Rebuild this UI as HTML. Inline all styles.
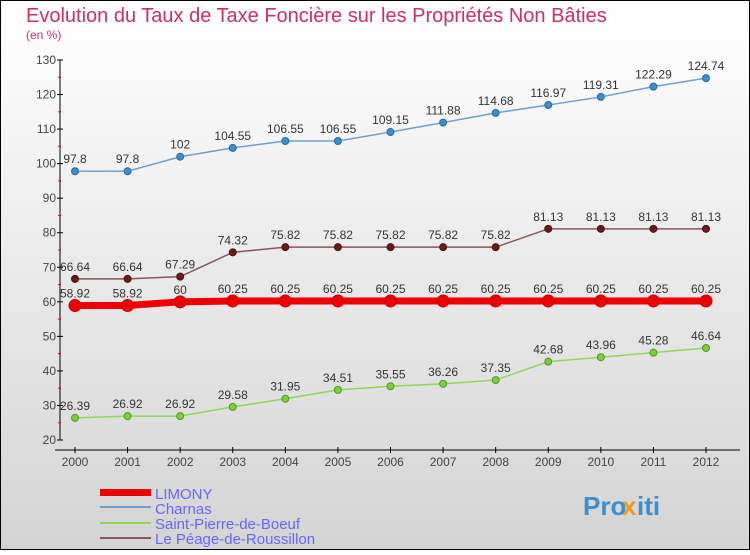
<!DOCTYPE html>
<html><head><meta charset="utf-8"><style>
html,body{margin:0;padding:0}
body{width:750px;height:550px;overflow:hidden;font-family:"Liberation Sans",sans-serif}
</style></head><body>
<svg id="c" width="750" height="550" xmlns="http://www.w3.org/2000/svg">
<defs><linearGradient id="bg" x1="0" y1="0" x2="0" y2="1"><stop offset="0" stop-color="#ffffff"/><stop offset="1" stop-color="#d4d4d4"/></linearGradient></defs>
<rect x="0.5" y="0.5" width="749" height="549" fill="url(#bg)" stroke="#000"/>
<text x="26" y="22" font-size="20" fill="#c8306a">Evolution du Taux de Taxe Foncière sur les Propriétés Non Bâties</text>
<text x="26" y="39" font-size="12" fill="#c8306a">(en %)</text>
<g id="axes"></g><g id="series"></g>
<g>
<rect x="100" y="489" width="51" height="7" fill="#e00"/>
<text x="155" y="499" font-size="15" fill="#6666ff">LIMONY</text>
<rect x="100" y="506" width="51" height="2" fill="#6fa0cc"/>
<text x="155" y="514" font-size="15" fill="#6666ff">Charnas</text>
<rect x="100" y="522" width="51" height="2" fill="#8ed65c"/>
<text x="155" y="529" font-size="15" fill="#6666ff">Saint-Pierre-de-Boeuf</text>
<rect x="100" y="537" width="51" height="2" fill="#8a5555"/>
<text x="155" y="544" font-size="15" fill="#6666ff">Le Péage-de-Roussillon</text>
</g>
<g font-size="26" font-weight="bold">
<text x="583" y="515" fill="#3a8fd0">Pro</text><text x="622" y="515" fill="#f39a1e">x</text><text x="637" y="515" fill="#3a8fd0">iti</text>
</g>
</svg>
<script>
const years=[2000,2001,2002,2003,2004,2005,2006,2007,2008,2009,2010,2011,2012];
const yTicks=[20,30,40,50,60,70,80,90,100,110,120,130];
const limony=[58.92,58.92,60,60.25,60.25,60.25,60.25,60.25,60.25,60.25,60.25,60.25,60.25];
const charnas=[97.8,97.8,102,104.55,106.55,106.55,109.15,111.88,114.68,116.97,119.31,122.29,124.74];
const stpierre=[26.39,26.92,26.92,29.58,31.95,34.51,35.55,36.26,37.35,42.68,43.96,45.28,46.64];
const peage=[66.64,66.64,67.29,74.32,75.82,75.82,75.82,75.82,75.82,81.13,81.13,81.13,81.13];
const NS="http://www.w3.org/2000/svg";
const X=i=>75+i*(706-75)/(years.length-1);
const Y=v=>440-(v-20)*380/110;
function mk(t,a,p){const e=document.createElementNS(NS,t);for(const k in a)e.setAttribute(k,a[k]);p.appendChild(e);return e;}
const ax=document.getElementById('axes');
let l=mk('line',{x1:60,y1:60,x2:60,y2:440,stroke:'#000','stroke-width':1},ax);


l=mk('line',{x1:55,y1:450,x2:740,y2:450,stroke:'#000','stroke-width':1},ax);


yTicks.forEach((v,i)=>{
  mk('line',{x1:57,x2:63,y1:Y(v),y2:Y(v),stroke:'#000'},ax);
  if(i<yTicks.length-1) mk('line',{x1:58,x2:61,y1:Y(v+5),y2:Y(v+5),stroke:'#e00'},ax);
  const t=mk('text',{x:56,y:Y(v)+4,'text-anchor':'end','font-size':12,fill:'#444'},ax);
  t.textContent=v;
  
  
});
years.forEach((y,i)=>{
  mk('line',{x1:X(i),x2:X(i),y1:447,y2:453,stroke:'#000'},ax);
  const t=mk('text',{x:X(i),y:466,'text-anchor':'middle','font-size':12,fill:'#444'},ax);
  t.textContent=y;
  
  
});
const sg=document.getElementById('series');
function series(vals,name,color,w,r,dot,dotStroke){
  const g=mk('g',{},sg);
  
  
  const pts=vals.map((v,i)=>X(i)+','+Y(v)).join(' ');
  mk('polyline',{points:pts,fill:'none',stroke:color,'stroke-width':w},g);
  vals.forEach((v,i)=>{
    const c=mk('circle',{cx:X(i),cy:Y(v),r:r,fill:dot,stroke:dotStroke,'stroke-width':1},g);
    
    
    const t=mk('text',{x:X(i),y:Y(v)-8,'text-anchor':'middle','font-size':12,fill:'#333'},g);
    t.textContent=v;
    
    
  });
}
series(charnas,'charnas','#6fa0cc',1.5,3.5,'#3a8fd0','#2a6a9a');
series(peage,'peage','#8a5555',1.5,3.5,'#6a1a1a','#4a1010');
series(stpierre,'saint-pierre','#8ed65c',1.5,3.5,'#7ccf3a','#4a9a20');
series(limony,'limony','#e00',7,6,'#e00','#c00');
</script>
</body></html>
